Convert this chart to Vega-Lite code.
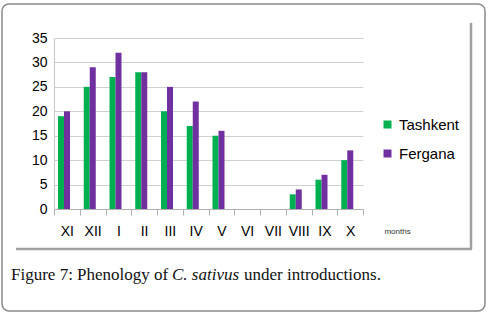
{
  "$schema": "https://vega.github.io/schema/vega-lite/v6.json",
  "width": 309,
  "height": 171,
  "autosize": {"type": "none"},
  "padding": {"left": 54, "top": 38, "right": 129, "bottom": 108},
  "background": "white",
  "config": {"view": {"stroke": null}, "font": "Liberation Sans"},
  "layer": [
    {
      "data": {"values": [{}]},
      "mark": {"type": "rect", "fill": null, "stroke": "#8a8a8a", "strokeWidth": 1.5, "cornerRadius": 7},
      "encoding": {"x": {"value": -52}, "x2": {"value": 431}, "y": {"value": -34}, "y2": {"value": 273}}
    },
    {
      "data": {"values": [{}]},
      "mark": {"type": "rule", "stroke": "#a0a0a0", "strokeWidth": 2.5},
      "encoding": {"x": {"value": 417}, "y": {"value": -15}, "y2": {"value": 211}}
    },
    {
      "data": {"values": [{}]},
      "mark": {"type": "rule", "stroke": "#a0a0a0", "strokeWidth": 2.5},
      "encoding": {"x": {"value": -38}, "x2": {"value": 418}, "y": {"value": 211}}
    },
    {
      "data": {"values": [
        {"month": "XI", "city": "Tashkent", "value": 19},
        {"month": "XI", "city": "Fergana", "value": 20},
        {"month": "XII", "city": "Tashkent", "value": 25},
        {"month": "XII", "city": "Fergana", "value": 29},
        {"month": "I", "city": "Tashkent", "value": 27},
        {"month": "I", "city": "Fergana", "value": 32},
        {"month": "II", "city": "Tashkent", "value": 28},
        {"month": "II", "city": "Fergana", "value": 28},
        {"month": "III", "city": "Tashkent", "value": 20},
        {"month": "III", "city": "Fergana", "value": 25},
        {"month": "IV", "city": "Tashkent", "value": 17},
        {"month": "IV", "city": "Fergana", "value": 22},
        {"month": "V", "city": "Tashkent", "value": 15},
        {"month": "V", "city": "Fergana", "value": 16},
        {"month": "VI", "city": "Tashkent", "value": 0},
        {"month": "VI", "city": "Fergana", "value": 0},
        {"month": "VII", "city": "Tashkent", "value": 0},
        {"month": "VII", "city": "Fergana", "value": 0},
        {"month": "VIII", "city": "Tashkent", "value": 3},
        {"month": "VIII", "city": "Fergana", "value": 4},
        {"month": "IX", "city": "Tashkent", "value": 6},
        {"month": "IX", "city": "Fergana", "value": 7},
        {"month": "X", "city": "Tashkent", "value": 10},
        {"month": "X", "city": "Fergana", "value": 12}
      ]},
      "mark": {"type": "bar"},
      "encoding": {
        "x": {
          "field": "month", "type": "nominal",
          "scale": {"domain": ["XI","XII","I","II","III","IV","V","VI","VII","VIII","IX","X"], "paddingInner": 0, "paddingOuter": 0},
          "axis": {
            "labelAngle": 0, "labelFontSize": 14, "labelColor": "#000", "labelPadding": 9,
            "tickBand": "extent", "tickSize": 6, "tickColor": "#b0b0b0", "domainColor": "#b0b0b0",
            "title": "months", "titleFontSize": 8, "titleFontWeight": "normal", "titleColor": "#333",
            "titleX": 343, "titleY": 22, "titleBaseline": "middle", "titleAlign": "center"
          }
        },
        "xOffset": {"field": "city", "type": "nominal", "sort": ["Tashkent", "Fergana"], "scale": {"range": [4, 16]}},
        "y": {
          "field": "value", "type": "quantitative",
          "scale": {"domain": [0, 35], "nice": false},
          "axis": {
            "values": [0,5,10,15,20,25,30,35], "grid": true, "gridColor": "#d0d0d0",
            "ticks": false, "domainColor": "#c8c8c8", "labelPadding": 7, "labelFontSize": 14,
            "labelColor": "#000", "title": null
          }
        },
        "color": {
          "field": "city", "type": "nominal",
          "scale": {"domain": ["Tashkent", "Fergana"], "range": ["#00B050", "#7030A0"]},
          "legend": {
            "title": null, "orient": "none", "legendX": 326, "legendY": 79, "padding": 0,
            "symbolType": "square", "symbolSize": 64, "symbolStrokeWidth": 0,
            "labelFontSize": 15, "labelColor": "#000", "rowPadding": 13, "labelOffset": 4
          }
        }
      }
    },
    {
      "data": {"values": [{}]},
      "mark": {"type": "text", "font": "Liberation Serif", "fontSize": 17, "align": "left", "baseline": "alphabetic", "color": "#111"},
      "encoding": {"x": {"value": -43}, "y": {"value": 242}, "text": {"value": "Figure 7: Phenology of"}}
    },
    {
      "data": {"values": [{}]},
      "mark": {"type": "text", "font": "Liberation Serif", "fontSize": 17, "fontStyle": "italic", "align": "left", "baseline": "alphabetic", "color": "#111"},
      "encoding": {"x": {"value": 118}, "y": {"value": 242}, "text": {"value": "C. sativus"}}
    },
    {
      "data": {"values": [{}]},
      "mark": {"type": "text", "font": "Liberation Serif", "fontSize": 17, "align": "left", "baseline": "alphabetic", "color": "#111"},
      "encoding": {"x": {"value": 190}, "y": {"value": 242}, "text": {"value": "under introductions."}}
    }
  ]
}
